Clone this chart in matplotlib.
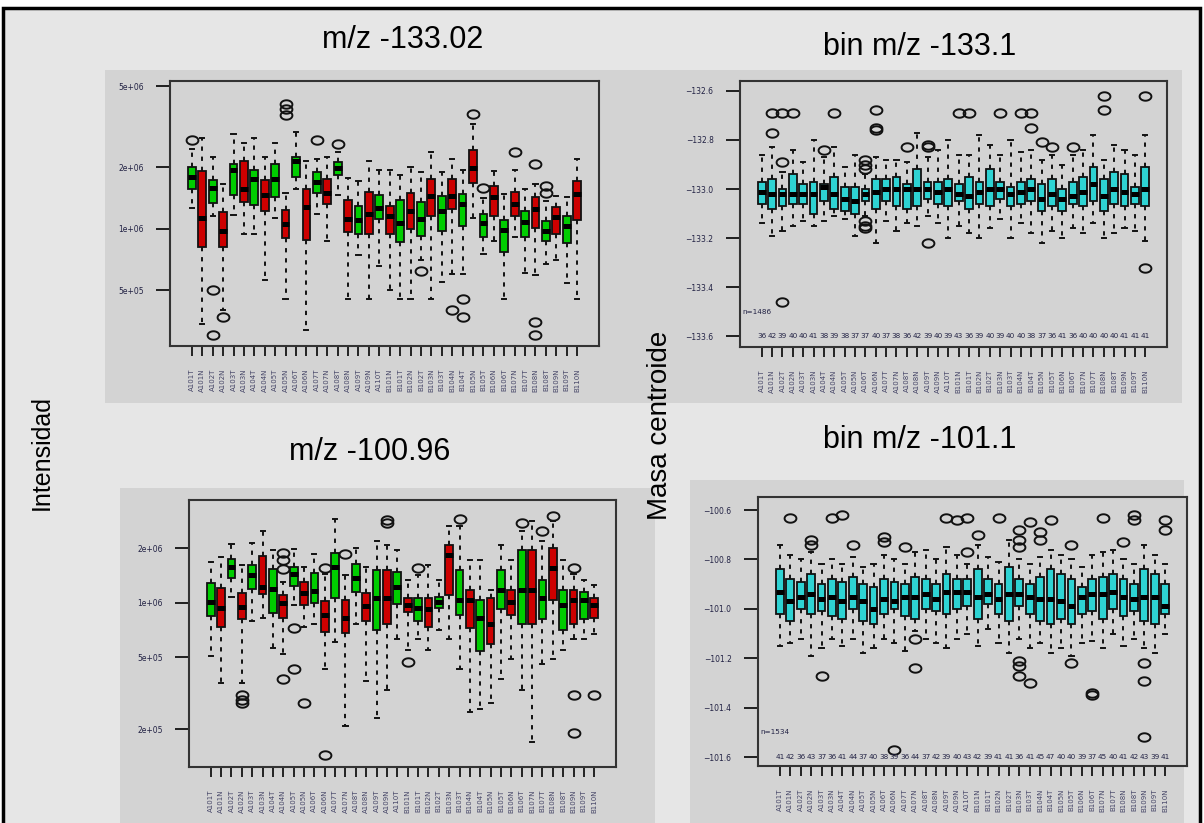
import matplotlib
matplotlib.use('Agg')
import numpy as np
import matplotlib.pyplot as plt
from matplotlib.patches import Rectangle
from matplotlib.path import Path

# ---- data ----
labels = ['A101T', 'A101N', 'A102T', 'A102N', 'A103T', 'A103N', 'A104T', 'A104N',
          'A105T', 'A105N', 'A106T', 'A106N', 'A107T', 'A107N', 'A108T', 'A108N',
          'A109T', 'A109N', 'A110T', 'B101N', 'B101T', 'B102N', 'B102T', 'B103N',
          'B103T', 'B104N', 'B104T', 'B105N', 'B105T', 'B106N', 'B106T', 'B107N',
          'B107T', 'B108N', 'B108T', 'B109N', 'B109T', 'B110N']

# intensity m/z -133.02 (x 1e6)
tl_q1 = [1.56, 0.81, 1.34, 0.81, 1.46, 1.35, 1.31, 1.22, 1.43, 0.90, 1.79, 0.88, 1.49, 1.32, 1.83, 0.96, 0.94, 0.94, 1.12,
         0.94, 0.86, 1.00, 0.92, 1.16, 0.98, 1.25, 1.03, 1.68, 0.91, 1.16, 0.77, 1.16, 0.91, 1.01, 0.87, 0.94, 0.85, 1.11]
tl_med = [1.79, 1.13, 1.58, 0.98, 1.95, 1.56, 1.76, 1.47, 1.76, 1.05, 2.16, 1.28, 1.69, 1.49, 1.98, 1.12, 1.11, 1.18, 1.27,
          1.15, 1.07, 1.22, 1.12, 1.45, 1.22, 1.45, 1.32, 1.98, 1.07, 1.43, 0.99, 1.33, 1.08, 1.25, 0.98, 1.14, 1.03, 1.48]
tl_q3 = [2.00, 1.93, 1.74, 1.21, 2.08, 2.15, 1.95, 1.73, 2.07, 1.23, 2.26, 1.57, 1.91, 1.75, 2.12, 1.38, 1.30, 1.51, 1.46,
         1.30, 1.38, 1.50, 1.35, 1.75, 1.45, 1.75, 1.48, 2.44, 1.18, 1.62, 1.10, 1.52, 1.22, 1.43, 1.09, 1.28, 1.16, 1.72]
tl_lo = [1.27, 0.34, 1.16, 0.40, 1.17, 0.94, 0.94, 0.56, 1.13, 0.45, 1.56, 0.32, 1.18, 0.87, 1.47, 0.45, 0.74, 0.45, 0.66,
         0.50, 0.45, 0.45, 0.70, 0.45, 0.55, 0.60, 0.60, 1.13, 0.75, 0.87, 0.45, 0.91, 0.61, 0.59, 0.67, 0.70, 0.54, 0.45]
tl_hi = [2.47, 2.78, 2.26, 1.65, 2.91, 2.65, 2.78, 2.24, 2.65, 1.50, 2.99, 2.14, 2.20, 2.26, 2.39, 1.77, 1.72, 2.14, 1.95,
         1.95, 1.84, 2.02, 1.90, 2.39, 1.90, 2.20, 1.95, 3.28, 1.42, 1.93, 1.48, 1.95, 1.56, 1.65, 1.37, 1.45, 1.43, 2.20]
tl_out = [[2.73], [], [0.50, 0.30], [0.37], [], [], [], [], [], [4.1, 3.88, 3.6], [], [], [2.73], [], [2.62], [], [],
          [], [], [], [], [], [0.62], [], [], [0.40], [0.45, 0.37], [3.67], [1.59], [], [], [2.39], [],
          [2.07, 0.35, 0.30], [1.63, 1.49], [], [], []]

# intensity m/z -100.96 (x 1e6)
bl_q1 = [0.85, 0.74, 1.38, 0.81, 1.19, 1.12, 0.88, 0.83, 1.24, 0.97, 1.00, 0.69, 1.07, 0.68, 1.15, 0.79, 0.71, 0.76, 0.99,
         0.89, 0.79, 0.74, 0.94, 1.11, 0.86, 0.73, 0.54, 0.59, 0.92, 0.86, 0.76, 0.76, 0.81, 1.04, 0.71, 0.76, 0.81, 0.83]
bl_med = [1.01, 0.94, 1.58, 0.95, 1.42, 1.23, 1.20, 1.00, 1.44, 1.13, 1.17, 0.86, 1.58, 0.83, 1.38, 0.96, 1.06, 1.06, 1.22,
          0.97, 0.94, 0.92, 1.01, 1.83, 1.04, 1.04, 0.83, 0.76, 1.18, 1.01, 1.18, 1.18, 1.06, 1.55, 0.97, 1.04, 1.04, 0.97]
bl_q3 = [1.28, 1.21, 1.74, 1.14, 1.61, 1.81, 1.53, 1.10, 1.57, 1.30, 1.47, 1.03, 1.88, 1.04, 1.63, 1.13, 1.52, 1.52, 1.48,
         1.06, 1.06, 1.06, 1.08, 2.08, 1.52, 1.18, 1.04, 1.06, 1.52, 1.18, 1.95, 1.95, 1.34, 2.00, 1.18, 1.18, 1.15, 1.06]
bl_lo = [0.51, 0.36, 1.08, 0.36, 0.79, 0.82, 0.56, 0.52, 0.97, 0.74, 0.76, 0.43, 0.61, 0.21, 0.76, 0.37, 0.23, 0.33, 0.63,
         0.55, 0.63, 0.55, 0.71, 0.63, 0.43, 0.25, 0.26, 0.28, 0.38, 0.49, 0.33, 0.17, 0.46, 0.49, 0.55, 0.63, 0.63, 0.67]
bl_hi = [1.68, 1.79, 2.12, 1.61, 2.14, 2.51, 1.95, 1.30, 1.99, 1.57, 1.87, 1.45, 2.91, 1.42, 2.02, 1.57, 2.21, 2.08, 1.95,
         1.34, 1.42, 1.61, 1.34, 2.67, 2.67, 1.72, 1.72, 1.18, 2.08, 1.72, 2.50, 2.85, 2.21, 2.85, 1.72, 1.45, 1.34, 1.25]
bl_out = [[], [], [], [0.31, 0.29, 0.28], [], [], [], [1.88, 1.73, 1.53, 0.38], [0.73, 0.43], [0.28], [],
          [1.55, 0.144], [], [1.87], [], [], [], [2.88, 2.77], [], [0.47], [1.55], [], [], [], [2.92], [], [], [],
          [], [], [2.77], [], [2.51], [3.03], [], [1.55, 0.31, 0.19], [], [0.31]]

# centroid mass bin m/z -133.1
tr_q1 = [-133.06, -133.08, -133.07, -133.06, -133.06, -133.10, -133.05, -133.08, -133.09, -133.10, -133.05, -133.08,
         -133.05, -133.07, -133.08, -133.07, -133.04, -133.06, -133.07, -133.05, -133.08, -133.06, -133.07, -133.04,
         -133.07, -133.06, -133.05, -133.09, -133.07, -133.09, -133.06, -133.07, -133.05, -133.09, -133.06, -133.07,
         -133.06, -133.07]
tr_med = [-133.01, -133.02, -133.02, -133.02, -133.02, -133.02, -132.99, -133.02, -133.04, -133.05, -133.02, -133.01,
          -133.00, -133.00, -133.00, -133.00, -133.00, -133.01, -133.00, -133.02, -133.03, -133.01, -133.00, -133.00,
          -133.02, -133.01, -133.00, -133.04, -133.02, -133.04, -133.03, -133.01, -132.98, -133.03, -133.00, -133.01,
          -133.02, -133.00]
tr_q3 = [-132.97, -132.96, -133.00, -132.94, -132.98, -132.97, -132.98, -132.95, -132.99, -132.99, -133.00, -132.96,
         -132.96, -132.95, -132.98, -132.92, -132.97, -132.97, -132.96, -132.98, -132.95, -132.97, -132.92, -132.97,
         -132.99, -132.97, -132.96, -132.98, -132.96, -133.00, -132.97, -132.95, -132.91, -132.96, -132.93, -132.94,
         -132.99, -132.91]
tr_lo = [-133.14, -133.19, -133.17, -133.15, -133.13, -133.15, -133.13, -133.11, -133.12, -133.19, -133.11, -133.22,
         -133.13, -133.17, -133.14, -133.15, -133.11, -133.14, -133.20, -133.15, -133.18, -133.20, -133.16, -133.12,
         -133.20, -133.14, -133.18, -133.22, -133.17, -133.20, -133.16, -133.18, -133.14, -133.20, -133.18, -133.16,
         -133.17, -133.21]
tr_hi = [-132.86, -132.83, -132.93, -132.84, -132.89, -132.80, -132.87, -132.83, -132.91, -132.86, -132.94, -132.87,
         -132.88, -132.88, -132.89, -132.77, -132.87, -132.84, -132.80, -132.86, -132.86, -132.78, -132.82, -132.86,
         -132.80, -132.85, -132.84, -132.88, -132.86, -132.90, -132.86, -132.84, -132.78, -132.88, -132.82, -132.84,
         -132.86, -132.78]
tr_out = [[], [-132.69, -132.77], [-132.69, -132.89, -133.46], [-132.69], [], [], [-132.84], [-132.69], [], [],
          [-132.88, -132.90, -132.92, -133.13, -133.15, -133.16], [-132.68, -132.75, -132.76], [], [], [-132.83], [],
          [-132.82, -132.83, -133.22], [], [], [-132.69], [-132.69], [], [], [-132.69], [], [-132.69],
          [-132.69, -132.75], [-132.81], [-132.83], [], [-132.83], [], [], [-132.62, -132.68], [], [], [],
          [-132.62, -133.32]]
tr_n = [36, 42, 39, 40, 40, 41, 38, 39, 38, 37, 37, 40, 37, 38, 36, 42, 39, 40, 39, 43, 36, 39, 40, 39, 40, 40, 38,
        37, 36, 41, 36, 40, 40, 40, 40, 41, 41, 41]

# centroid mass bin m/z -101.1
br_q1 = [-101.02, -101.05, -101.00, -101.02, -101.01, -101.03, -101.04, -101.00, -101.05, -101.06, -101.02, -101.00,
         -101.03, -101.04, -101.00, -101.01, -101.02, -101.00, -100.99, -101.04, -100.98, -101.02, -101.05, -100.99,
         -101.02, -101.05, -101.06, -101.04, -101.06, -101.02, -101.01, -101.04, -101.00, -101.03, -101.01, -101.05,
         -101.06, -101.02]
br_med = [-100.93, -100.97, -100.95, -100.94, -100.96, -100.95, -100.97, -100.95, -100.97, -101.00, -100.96, -100.97,
          -100.95, -100.95, -100.94, -100.96, -100.93, -100.93, -100.93, -100.95, -100.94, -100.96, -100.94, -100.94,
          -100.95, -100.96, -100.96, -100.97, -100.99, -100.95, -100.94, -100.94, -100.93, -100.95, -100.96, -100.95,
          -100.95, -100.99]
br_q3 = [-100.84, -100.88, -100.89, -100.86, -100.90, -100.88, -100.89, -100.87, -100.90, -100.91, -100.88, -100.89,
         -100.90, -100.87, -100.88, -100.90, -100.86, -100.88, -100.88, -100.84, -100.88, -100.90, -100.83, -100.88,
         -100.90, -100.87, -100.84, -100.86, -100.88, -100.91, -100.88, -100.87, -100.86, -100.88, -100.90, -100.84,
         -100.86, -100.90]
br_lo = [-101.15, -101.14, -101.12, -101.19, -101.16, -101.12, -101.15, -101.12, -101.18, -101.16, -101.12, -101.14,
         -101.17, -101.09, -101.12, -101.14, -101.16, -101.12, -101.10, -101.15, -101.08, -101.14, -101.18, -101.12,
         -101.16, -101.14, -101.18, -101.16, -101.19, -101.14, -101.13, -101.16, -101.10, -101.15, -101.12, -101.16,
         -101.18, -101.10]
br_hi = [-100.74, -100.78, -100.80, -100.77, -100.82, -100.80, -100.82, -100.79, -100.83, -100.82, -100.78, -100.80,
         -100.82, -100.77, -100.76, -100.80, -100.75, -100.78, -100.82, -100.74, -100.79, -100.81, -100.72, -100.80,
         -100.82, -100.79, -100.76, -100.78, -100.80, -100.83, -100.78, -100.77, -100.76, -100.80, -100.82, -100.74,
         -100.78, -100.82]
br_out = [[], [-100.63], [], [-100.72, -100.74], [-101.27], [-100.63], [-100.62], [-100.74], [], [],
          [-100.71, -100.73], [-101.57], [-100.75], [-101.12, -101.24], [], [], [-100.63], [-100.64],
          [-100.63, -100.77], [-100.70], [], [-100.63], [], [-100.68, -100.72, -100.75, -101.21, -101.23, -101.27],
          [-100.65, -101.30], [-100.69, -100.72], [-100.64], [], [-100.74, -101.22], [], [-101.34, -101.35],
          [-100.63], [], [-100.73], [-100.62, -100.64], [-101.22, -101.29, -101.52], [], [-100.64, -100.68]]
br_n = [41, 42, 36, 43, 37, 36, 41, 44, 37, 40, 38, 39, 36, 44, 37, 42, 39, 40, 43, 42, 39, 41, 41, 36, 41, 45, 47,
        40, 40, 39, 37, 45, 40, 41, 42, 43, 39, 41]

W, H = 1204, 823
GREEN, RED, CYAN = '#00cd00', '#cd0000', '#2ed3d3'
PANEL = '#d3d3d3'
FONT = ['Liberation Sans', 'DejaVu Sans']

# the source image is stretched sideways, so outlier circles look like flat ellipses
_t = np.linspace(0, 2 * np.pi, 49)
ELLIPSE = Path(np.column_stack([1.4 * np.cos(_t), np.sin(_t)]), closed=True)

fig = plt.figure(figsize=(W / 100, H / 100), dpi=100)
fig.patch.set_facecolor('white')


def box(x0, y0, x1, y1):
    # pixel box (top-left origin) -> figure fraction rect
    return [x0 / W, 1 - y1 / H, (x1 - x0) / W, (y1 - y0) / H]


def fig_rect(x0, y0, x1, y1, **kw):
    r = box(x0, y0, x1, y1)
    fig.patches.append(Rectangle((r[0], r[1]), r[2], r[3], transform=fig.transFigure, zorder=-5, **kw))


# outer frame and grey panel backgrounds
fig_rect(3, 8, 1200, 860, facecolor='#e6e6e6', edgecolor='black', lw=2.5)
fig_rect(105, 70, 612, 403, facecolor=PANEL, edgecolor='none')
fig_rect(612, 70, 1182, 403, facecolor=PANEL, edgecolor='none')
fig_rect(120, 488, 655, 823, facecolor=PANEL, edgecolor='none')
fig_rect(690, 480, 1184, 823, facecolor=PANEL, edgecolor='none')


def panel(pos, q1, med, q3, lo, hi, out, colors, ylim, yticks, ytlabels, log=False):
    ax = fig.add_axes(box(*pos))
    ax.set_facecolor(PANEL)
    stats = [dict(q1=a, med=m, q3=b, whislo=l, whishi=h, fliers=f)
             for a, m, b, l, h, f in zip(q1, med, q3, lo, hi, out)]
    bp = ax.bxp(stats, positions=range(1, len(stats) + 1), widths=0.75, capwidths=0.4,
                patch_artist=True,
                boxprops=dict(edgecolor='#111111', lw=1.3),
                whiskerprops=dict(color='#111111', lw=1.4, linestyle=(0, (2.2, 3.0))),
                capprops=dict(color='#111111', lw=1.4),
                medianprops=dict(color='black', lw=3.6, solid_capstyle='butt'),
                flierprops=dict(marker=ELLIPSE, markerfacecolor='none', markeredgecolor='#111111',
                                markersize=8.5, markeredgewidth=1.4))
    for patch, c in zip(bp['boxes'], colors):
        patch.set_facecolor(c)
    if log:
        ax.set_yscale('log')
    ax.set_ylim(*ylim)
    ax.set_xlim(-1.1, len(stats) + 2.1)
    ax.set_yticks(yticks)
    ax.set_yticklabels(ytlabels)
    ax.minorticks_off()
    ax.set_xticks(range(1, len(stats) + 1))
    ax.set_xticklabels(labels, rotation=90, fontsize=5, color='#444466')
    ax.tick_params(axis='x', length=7, width=1.4, pad=9, color='#222222')
    ax.tick_params(axis='y', length=10, width=1.2, pad=9, labelsize=5.5, labelcolor='#222244')
    for s in ax.spines.values():
        s.set_linewidth(1.5)
        s.set_color('#333333')
    return ax


n = len(labels)
rg = [GREEN if i % 2 == 0 else RED for i in range(n)]
cy = [CYAN] * n

panel((170, 81, 599, 346), [v * 1e6 for v in tl_q1], [v * 1e6 for v in tl_med], [v * 1e6 for v in tl_q3],
      [v * 1e6 for v in tl_lo], [v * 1e6 for v in tl_hi], [[v * 1e6 for v in o] for o in tl_out], rg,
      (2.66e5, 5.31e6), [5e5, 1e6, 2e6, 5e6], ['5e+05', '1e+06', '2e+06', '5e+06'], log=True)

panel((189, 500, 616, 767), [v * 1e6 for v in bl_q1], [v * 1e6 for v in bl_med], [v * 1e6 for v in bl_q3],
      [v * 1e6 for v in bl_lo], [v * 1e6 for v in bl_hi], [[v * 1e6 for v in o] for o in bl_out], rg,
      (1.24e5, 3.7e6), [2e5, 5e5, 1e6, 2e6], ['2e+05', '5e+05', '1e+06', '2e+06'], log=True)

ax_tr = panel((740, 81, 1167, 347), tr_q1, tr_med, tr_q3, tr_lo, tr_hi, tr_out, cy,
              (-133.643, -132.56), [-133.6, -133.4, -133.2, -133.0, -132.8, -132.6],
              ['\u2212133.6', '\u2212133.4', '\u2212133.2', '\u2212133.0', '\u2212132.8', '\u2212132.6'])
for i, c in enumerate(tr_n):
    ax_tr.text(i + 1, -133.6, str(c), ha='center', va='center', fontsize=5.2, color='#222244')
ax_tr.text(0.005, -133.5, 'n=1486', transform=ax_tr.get_yaxis_transform(), fontsize=5.2,
           va='center', color='#222244')

ax_br = panel((758, 497, 1187, 766), br_q1, br_med, br_q3, br_lo, br_hi, br_out, cy,
              (-101.636, -100.547), [-101.6, -101.4, -101.2, -101.0, -100.8, -100.6],
              ['\u2212101.6', '\u2212101.4', '\u2212101.2', '\u2212101.0', '\u2212100.8', '\u2212100.6'])
for i, c in enumerate(br_n):
    ax_br.text(i + 1, -101.6, str(c), ha='center', va='center', fontsize=5.2, color='#222244')
ax_br.text(0.005, -101.5, 'n=1534', transform=ax_br.get_yaxis_transform(), fontsize=5.2,
           va='center', color='#222244')


# titles and axis names
def ftext(x, y, s, **kw):
    fig.text(x / W, 1 - y / H, s, ha='center', va='center', family=FONT, **kw)


ftext(403, 40, 'm/z -133.02', fontsize=22)
ftext(920, 47, 'bin m/z -133.1', fontsize=22)
ftext(370, 452, 'm/z -100.96', fontsize=22)
ftext(920, 440, 'bin m/z -101.1', fontsize=22)
ftext(42, 452, 'Intensidad', fontsize=18, rotation=90)
ftext(660, 425, 'Masa centroide', fontsize=20, rotation=90)

fig.savefig('out.png', dpi=100, facecolor=fig.get_facecolor())
